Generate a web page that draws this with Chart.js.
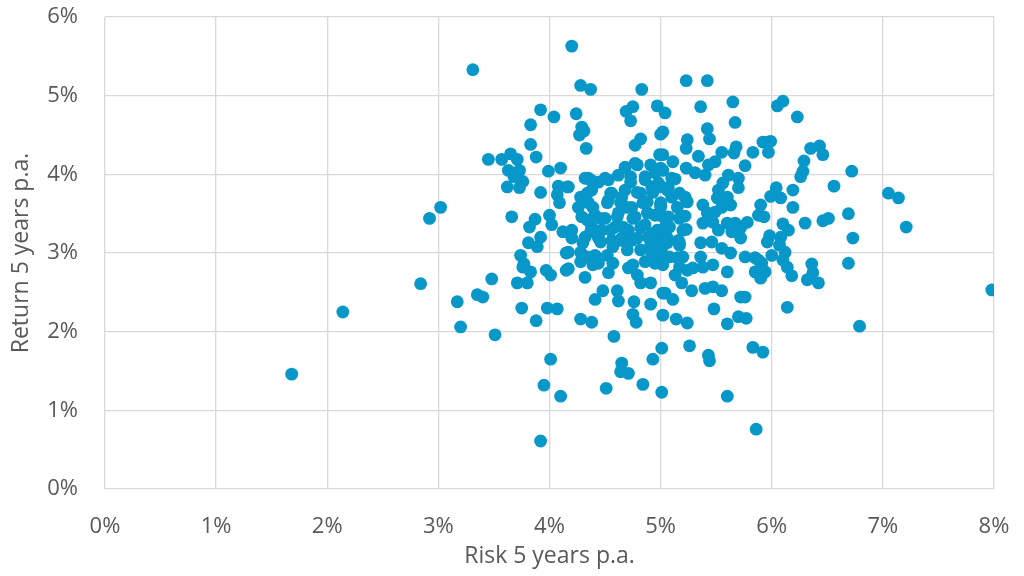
<!DOCTYPE html>
<html>
<head>
<meta charset="utf-8">
<script src="https://cdn.jsdelivr.net/npm/chart.js@4/dist/chart.umd.min.js"></script>
<style>
  html, body { margin: 0; padding: 0; background: #fff; }
  #wrap { width: 1024px; height: 576px; }
</style>
</head>
<body>
<div id="wrap"><canvas id="riskChart"></canvas></div>
<script>
// DATA (percent values)
var xTitle = 'Risk 5 years p.a.';
var yTitle = 'Return 5 years p.a.';
var xTicks = [0, 1, 2, 3, 4, 5, 6, 7, 8];
var yTicks = [0, 1, 2, 3, 4, 5, 6];

var riskValues = [
  1.68,2.14,2.84,2.92,3.02,3.17,3.20,3.31,3.35,3.40,3.48,3.51,
  3.45,3.57,3.65,3.71,3.63,3.73,3.68,3.76,3.62,3.73,3.92,3.99,4.10,4.08,4.16,4.07,4.09,3.66,3.87,3.82,4.00,4.02,4.12,3.92,3.81,3.89,
  3.92,4.04,3.83,3.83,3.88,3.74,3.77,3.76,3.83,3.97,4.01,4.15,4.15,3.71,3.80,3.75,3.98,4.07,3.88,4.01,3.95,4.10,3.92,
  4.20,4.28,4.37,4.83,4.24,4.69,4.75,4.73,4.97,4.29,
  4.27,4.31,4.33,4.82,4.77,5.00,4.99,4.68,4.79,4.91,
  4.35,4.17,4.44,4.53,4.62,4.73,4.86,4.95,4.28,4.38,
  4.56,4.68,4.82,4.92,5.01,4.26,4.35,4.53,4.64,4.74,
  4.88,5.00,4.29,4.41,4.50,4.62,4.77,4.95,4.20,4.38,
  4.47,4.59,4.71,4.86,4.97,4.32,4.65,4.89,4.20,4.44,
  4.56,4.74,4.97,4.17,4.28,4.41,4.57,4.70,4.82,4.92,
  5.01,4.28,4.44,4.86,4.95,4.17,4.32,4.53,4.71,4.79,
  4.82,4.91,4.48,4.41,4.61,4.62,4.76,4.91,5.02,4.75,
  4.78,5.02,4.28,4.38,4.58,4.93,5.01,4.65,4.64,4.71,
  4.84,4.51,5.01,
  5.23,5.42,5.36,5.65,5.67,5.04,5.02,5.42,5.44,5.24,
  5.23,5.68,5.66,5.83,5.92,5.34,5.55,5.02,5.11,5.23,
  5.31,5.40,5.43,5.49,5.76,5.02,5.13,5.61,5.70,5.70,
  5.56,5.52,5.07,5.10,5.22,5.24,5.00,5.38,5.51,5.60,
  5.55,5.63,5.42,5.49,5.90,5.88,5.22,5.07,5.38,5.47,
  5.60,5.67,5.78,5.04,5.23,5.52,5.64,5.72,5.04,5.16,
  5.36,5.46,5.72,
  5.06,5.17,5.55,5.63,5.02,5.15,5.36,5.47,5.38,5.29,
  5.24,5.60,5.76,5.85,5.91,5.85,5.90,5.13,5.19,5.28,
  5.40,5.47,5.55,5.04,5.11,5.72,5.76,5.48,
  5.14,5.24,5.60,5.70,5.77,5.26,5.43,5.44,5.83,5.92,
  5.60,5.86,
  6.05,6.10,6.23,5.96,5.99,5.97,6.35,6.43,6.46,6.29,
  6.28,6.26,6.72,6.56,6.04,5.99,6.08,6.19,6.19,5.93,
  6.30,6.46,6.51,6.69,6.10,6.15,5.98,5.96,6.08,6.07,
  6.12,6.73,5.88,6.00,6.10,6.14,5.94,6.18,6.36,6.37,
  6.32,6.42,6.69,6.14,6.79,7.05,7.14,7.21,7.98,
  4.32,4.77,5.00,4.37,4.50,4.73,4.86,4.98,5.10,4.34,
  4.55,4.65,4.79,4.93,5.06,5.17,4.39,4.52,4.70,4.84,
  5.00,5.15,4.34,4.46,4.61,4.75,4.88,5.02,5.17,4.37,
  4.55,4.66,4.82,4.93,5.08,5.20,4.30,4.46,4.64,4.79,
  4.91,5.06,5.17,4.34,4.52,4.97,5.08,5.20,4.39,4.57,
  4.75,5.02,5.17
];

var returnValues = [
  1.46,2.25,2.61,3.44,3.58,2.38,2.06,5.33,2.47,2.44,2.67,1.96,
  4.19,4.19,4.26,4.19,4.05,4.05,3.97,3.91,3.84,3.83,3.77,4.04,4.08,3.85,3.84,3.74,3.64,3.46,3.43,3.33,3.48,3.36,3.27,3.20,3.13,3.08,
  4.82,4.73,4.63,4.38,4.22,2.97,2.86,2.82,2.76,2.78,2.72,3.00,2.78,2.62,2.62,2.30,2.30,2.29,2.14,1.65,1.32,1.18,0.61,
  5.63,5.13,5.08,5.08,4.77,4.80,4.86,4.68,4.87,4.60,
  4.50,4.55,4.33,4.45,4.37,4.51,4.25,4.09,4.12,4.12,
  3.95,3.84,3.90,3.93,3.99,3.90,3.97,4.02,3.71,3.80,
  3.76,3.80,3.76,3.84,3.84,3.58,3.64,3.67,3.64,3.58,
  3.65,3.64,3.46,3.48,3.44,3.51,3.46,3.48,3.29,3.33,
  3.29,3.33,3.29,3.36,3.29,3.20,3.19,3.20,3.19,3.19,
  3.16,3.16,3.14,3.01,3.01,2.97,3.08,3.04,3.04,3.00,
  3.06,2.89,2.87,2.89,2.87,2.80,2.69,2.75,2.81,2.72,
  2.62,2.62,2.52,2.41,2.52,2.39,2.38,2.35,2.49,2.22,
  2.12,2.21,2.16,2.12,1.94,1.65,1.79,1.60,1.49,1.47,
  1.33,1.28,1.23,
  5.19,5.19,4.86,4.92,4.66,4.78,4.54,4.58,4.45,4.44,
  4.33,4.35,4.27,4.28,4.41,4.23,4.28,4.25,4.16,4.08,
  4.02,3.99,4.12,4.16,4.11,4.05,3.94,3.99,3.95,3.83,
  3.89,3.80,3.83,3.71,3.71,3.65,3.61,3.61,3.70,3.71,
  3.58,3.61,3.51,3.52,3.61,3.48,3.47,3.46,3.38,3.39,
  3.38,3.38,3.39,3.33,3.30,3.29,3.27,3.32,3.23,3.16,
  3.13,3.14,3.19,
  3.13,3.10,3.06,3.00,2.94,2.94,2.95,2.85,2.82,2.81,
  2.78,2.76,2.95,2.94,2.87,2.76,2.68,2.72,2.62,2.52,
  2.55,2.57,2.52,2.49,2.41,2.44,2.44,2.29,
  2.16,2.11,2.10,2.19,2.17,1.82,1.70,1.63,1.80,1.74,
  1.18,0.76,
  4.87,4.93,4.73,4.41,4.42,4.28,4.33,4.36,4.25,4.17,
  4.04,3.97,4.04,3.85,3.83,3.72,3.70,3.80,3.58,3.46,
  3.38,3.41,3.44,3.50,3.37,3.29,3.22,3.14,3.20,3.10,
  3.01,3.19,2.91,2.97,2.91,2.82,2.76,2.71,2.86,2.75,
  2.66,2.62,2.87,2.31,2.07,3.76,3.70,3.33,2.53,
  3.95,4.14,4.08,3.93,3.95,3.97,3.93,3.89,3.95,3.76,
  3.76,3.71,3.77,3.77,3.80,3.76,3.58,3.64,3.58,3.64,
  3.58,3.58,3.42,3.44,3.46,3.44,3.51,3.46,3.44,3.27,
  3.29,3.33,3.32,3.25,3.33,3.29,3.13,3.14,3.16,3.19,
  3.10,3.19,3.13,2.95,2.97,3.00,2.95,2.95,2.85,2.87,
  2.85,2.85,2.82
];

// BUILD
var points = [];
var n = Math.min(riskValues.length, returnValues.length);
for (var i = 0; i < n; i++) {
  points.push({ x: riskValues[i], y: returnValues[i] });
}

var textColor = '#595959';
var gridColor = '#d9d9d9';
var fontFamily = "'Open Sans', 'Noto Sans', sans-serif";

function pct(v) { return v + '%'; }

const scatter_config = {
  type: 'scatter',
  data: {
    datasets: [{
      label: 'Funds',
      data: points,
      backgroundColor: '#0797C9',
      borderWidth: 0,
      pointRadius: 6.4,
      pointHoverRadius: 6.4
    }]
  },
  options: {
    responsive: true,
    maintainAspectRatio: false,
    animation: false,
    // plot area: x 105..994, y 17..489
    layout: { padding: { top: 17, right: 30, bottom: 0, left: 0 } },
    plugins: {
      legend: { display: false },
      tooltip: { enabled: false }
    },
    scales: {
      x: {
        type: 'linear',
        min: xTicks[0],
        max: xTicks[xTicks.length - 1],
        afterBuildTicks: function(axis) { axis.ticks = xTicks.map(function(v) { return { value: v }; }); },
        afterFit: function(axis) {
          axis.height = 87;
          axis.paddingLeft = 0;
          axis.paddingRight = 0;
        },
        grid: { color: gridColor, lineWidth: 1.3, drawTicks: false },
        border: { display: false },
        ticks: { color: textColor, padding: 25, font: { family: fontFamily, size: 22 }, callback: pct },
        title: { display: true, text: xTitle, color: textColor, padding: { top: 0, bottom: 6 }, font: { family: fontFamily, size: 23 } }
      },
      y: {
        type: 'linear',
        min: yTicks[0],
        max: yTicks[yTicks.length - 1],
        afterBuildTicks: function(axis) { axis.ticks = yTicks.map(function(v) { return { value: v }; }); },
        afterFit: function(axis) {
          axis.width = 105;
          axis.paddingTop = 0;
          axis.paddingBottom = 0;
        },
        grid: { color: gridColor, lineWidth: 1.3, drawTicks: false },
        border: { display: false },
        ticks: { color: textColor, padding: 27, font: { family: fontFamily, size: 22 }, callback: pct },
        title: { display: true, text: yTitle, color: textColor, padding: { top: 8, bottom: 0 }, font: { family: fontFamily, size: 23 } }
      }
    }
  }
};

var riskChart = new Chart(document.getElementById('riskChart'), scatter_config);
</script>
</body>
</html>
